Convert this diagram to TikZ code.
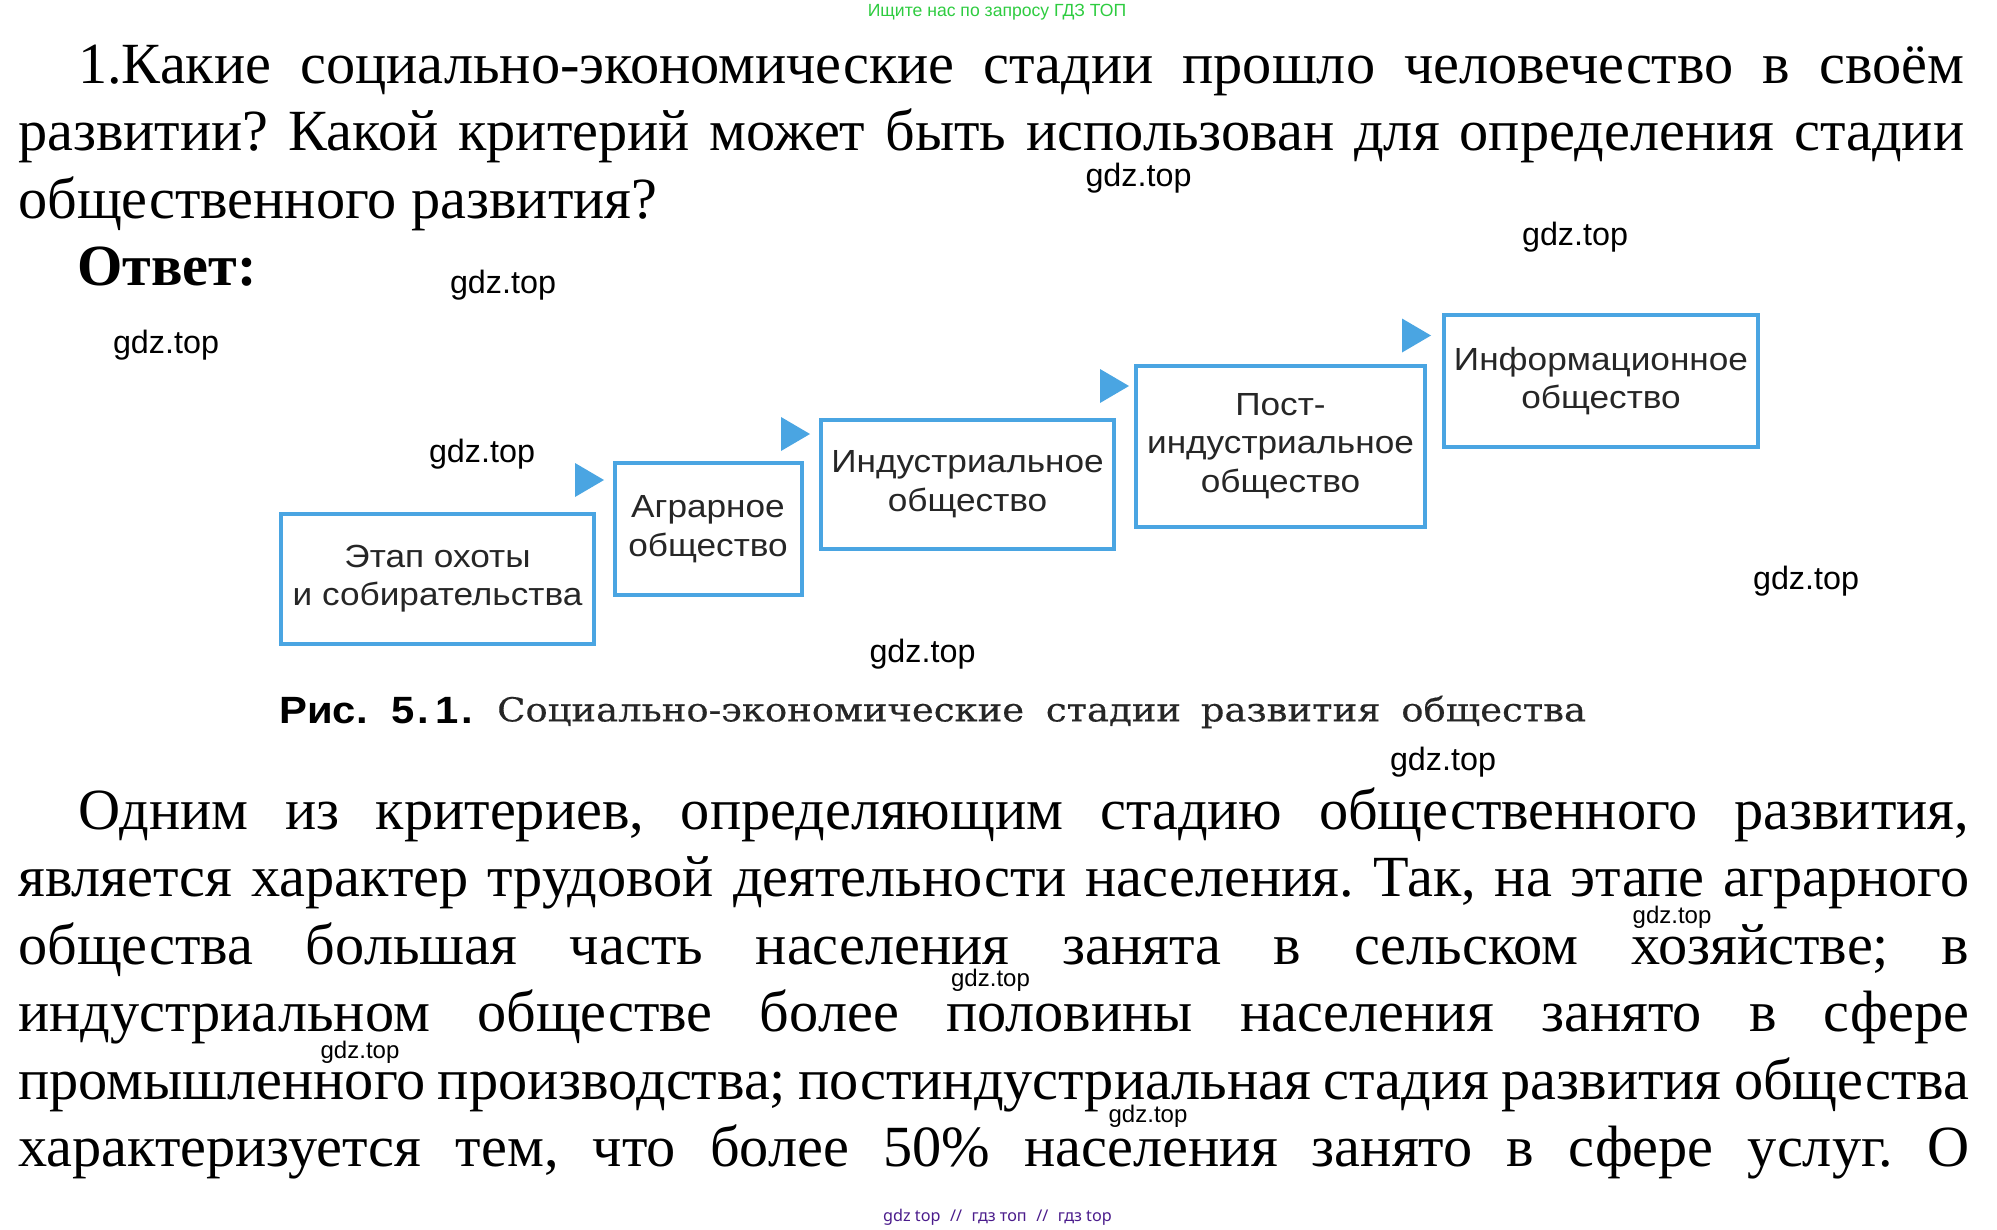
\documentclass[tikz,border=0pt]{standalone}
\usepackage{fontspec}
\setmainfont{Liberation Serif}
\newfontfamily\labelfont{Liberation Sans}
\newfontfamily\stagefont[FakeStretch=1.1]{Liberation Sans}
\newfontfamily\figfont[FakeStretch=1.1]{Liberation Sans}
\newfontfamily\markfont{Noto Sans}
\newfontfamily\capfont[FakeStretch=1.12,FakeBold=0.4]{DejaVu Serif}
\usetikzlibrary{positioning}
\definecolor{stageblue}{HTML}{4AA5E2}
\definecolor{searchgreen}{HTML}{2ECC40}
\definecolor{footviolet}{HTML}{4B1C8C}
\tikzset{
  para/.style={inner sep=0pt,anchor=north west,text width=#1,align=justify},
  stage/.style={draw=stageblue,line width=4pt,fill=white,inner sep=0pt,align=center,
    text=black!85,font=\stagefont\fontsize{32}{38.5}\selectfont,
    execute at begin node={\rule{0pt}{28pt}}},
  wmark/.style={inner sep=0pt,font=\labelfont\fontsize{32.3}{38}\selectfont},
  wmarksmall/.style={inner sep=0pt,font=\labelfont\fontsize{24}{28}\selectfont},
}
\begin{document}
\frenchspacing
\begin{tikzpicture}[x=1pt,y=-1pt]
  \useasboundingbox (0,0) rectangle (1997,1229);
  \fill[white] (0,0) rectangle (1997,1229);
  \node[inner sep=0pt,text=searchgreen,font=\labelfont\fontsize{17.6}{22}\selectfont] (search) at (997,12) {Ищите нас по запросу ГДЗ ТОП};
  % question
  \node[para=1946pt,font=\fontsize{58.3}{67.5}\selectfont] (question) at (18,44.5) {\hspace*{60pt}1.Какие социально-экономические стадии прошло человечество в своём\linebreak развитии? Какой критерий может быть использован для определения стадии\linebreak общественного развития?};
  \node[inner sep=0pt,anchor=west,font=\bfseries\fontsize{58.3}{68}\selectfont] (answer) at (77,267) {Ответ:};
  % stages
  \node[stage,minimum width=313pt,minimum height=130pt] (hunt) at (437.5,578.5) {Этап охоты\\и собирательства};
  \node[stage,minimum width=187pt,minimum height=132pt] (agrar) at (708,529) {Аграрное\\общество};
  \node[stage,minimum width=293pt,minimum height=129pt] (indust) at (967.5,484) {Индустриальное\\общество};
  \node[stage,minimum width=289pt,minimum height=161pt] (postind) at (1280.5,446) {Пост-\\индустриальное\\общество};
  \node[stage,minimum width=314pt,minimum height=132pt] (inform) at (1601,381) {Информационное\\общество};
  \foreach \px/\py in {575/480,781/434,1100/386,1402/335.5} {
    \fill[stageblue] (\px,\py-17) -- (\px+29,\py) -- (\px,\py+17) -- cycle;
  }
  % caption
  \node[inner sep=0pt,anchor=west,font=\figfont\bfseries\fontsize{38}{44}\selectfont] (figno) at (279,711) {Рис.\hspace{24pt}5\hspace{3pt}.\hspace{6pt}1\hspace{3pt}.};
  \node[inner sep=0pt,anchor=west,text=black!85,font=\capfont\fontsize{33}{40}\selectfont] (figcap) at (497,712) {Социально-экономические\hspace{10pt} стадии\hspace{8pt} развития\hspace{9pt} общества};
  % answer text
  \node[para=1951pt,font=\fontsize{58.3}{67.5}\selectfont] (body) at (18,787.5) {\hspace*{60pt}Одним из критериев, определяющим стадию общественного развития,\linebreak является характер трудовой деятельности населения. Так, на этапе аграрного\linebreak общества большая часть населения занята в сельском хозяйстве; в\linebreak индустриальном обществе более половины населения занято в сфере\linebreak промышленного производства; постиндустриальная стадия развития общества\linebreak характеризуется тем, что более 50\% населения занято в сфере услуг. О\parfillskip=0pt\par};
  % watermarks
  \foreach \wx/\wy [count=\i] in {1138.5/178,1575/237,503/285,166/345,482/454,1806/581,922.5/654,1443/762} {
    \node[wmark] (mark\i) at (\wx,\wy) {gdz.top};
  }
  \foreach \wx/\wy [count=\i] in {1672/917,990.5/980,360/1052,1148/1116} {
    \node[wmarksmall] (small\i) at (\wx,\wy) {gdz.top};
  }
  \node[inner sep=0pt,text=footviolet,font=\markfont\fontsize{16.2}{22}\selectfont] (foot) at (997.5,1217) {gdz top\hspace{9.5pt}//\hspace{9.5pt}гдз топ\hspace{9.5pt}//\hspace{9.5pt}гдз top};
\end{tikzpicture}
\end{document}
